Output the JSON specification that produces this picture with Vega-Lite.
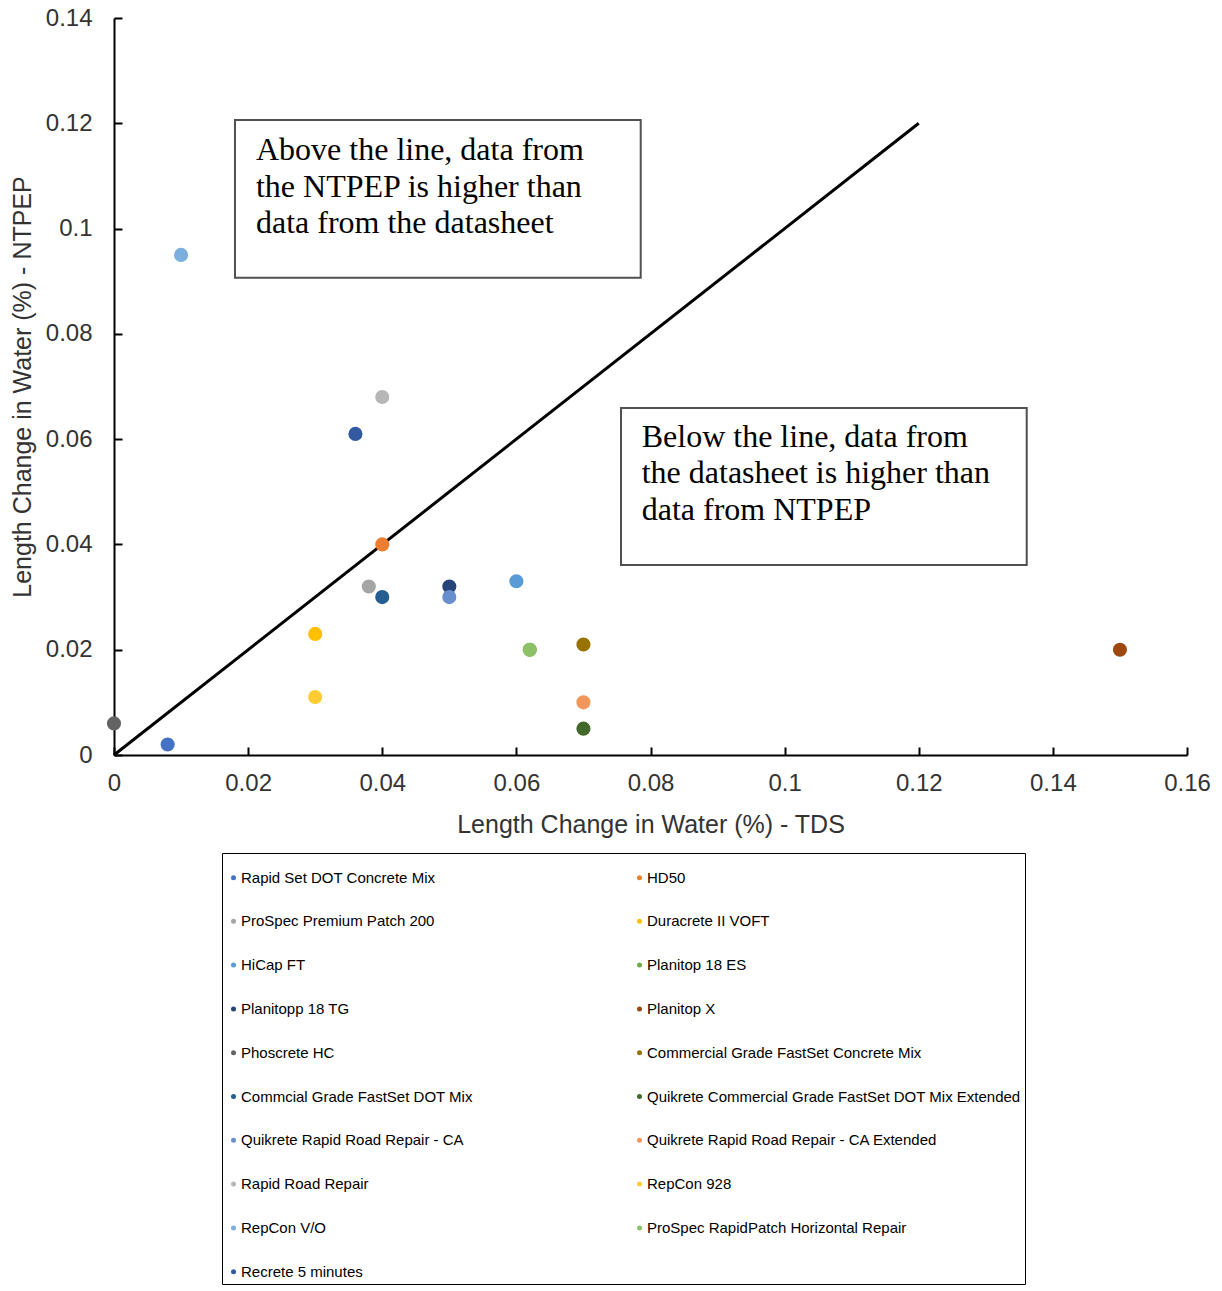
{
  "$schema": "https://vega.github.io/schema/vega-lite/v6.json",
  "width": 1073,
  "height": 737,
  "autosize": {"type": "none"},
  "padding": {"left": 114, "top": 18, "right": 35, "bottom": 536},
  "background": "white",
  "config": {
    "view": {"stroke": null},
    "axis": {
      "grid": false,
      "domainColor": "black",
      "domainWidth": 2,
      "tickColor": "black",
      "tickWidth": 2,
      "tickSize": -8,
      "labelFont": "Liberation Sans",
      "labelFontSize": 24,
      "labelColor": "#333333",
      "titleFont": "Liberation Sans",
      "titleFontSize": 25,
      "titleFontWeight": "normal",
      "titleColor": "#333333"
    }
  },
  "datasets": {
    "points": [
      {"product": "Rapid Set DOT Concrete Mix", "tds": 0.008, "ntpep": 0.002},
      {"product": "HD50", "tds": 0.04, "ntpep": 0.04},
      {"product": "ProSpec Premium Patch 200", "tds": 0.038, "ntpep": 0.032},
      {"product": "Duracrete II VOFT", "tds": 0.03, "ntpep": 0.023},
      {"product": "HiCap FT", "tds": 0.06, "ntpep": 0.033},
      {"product": "Planitop 18 ES", "tds": 0.062, "ntpep": 0.02},
      {"product": "Planitopp 18 TG", "tds": 0.05, "ntpep": 0.032},
      {"product": "Planitop X", "tds": 0.15, "ntpep": 0.02},
      {"product": "Phoscrete HC", "tds": 0.0, "ntpep": 0.006},
      {"product": "Commercial Grade FastSet Concrete Mix", "tds": 0.07, "ntpep": 0.021},
      {"product": "Commcial Grade FastSet DOT Mix", "tds": 0.04, "ntpep": 0.03},
      {"product": "Quikrete Commercial Grade FastSet DOT Mix Extended", "tds": 0.07, "ntpep": 0.005},
      {"product": "Quikrete Rapid Road Repair - CA", "tds": 0.05, "ntpep": 0.03},
      {"product": "Quikrete Rapid Road Repair - CA Extended", "tds": 0.07, "ntpep": 0.01},
      {"product": "Rapid Road Repair", "tds": 0.04, "ntpep": 0.068},
      {"product": "RepCon 928", "tds": 0.03, "ntpep": 0.011},
      {"product": "RepCon V/O", "tds": 0.01, "ntpep": 0.095},
      {"product": "ProSpec RapidPatch Horizontal Repair", "tds": 0.062, "ntpep": 0.02},
      {"product": "Recrete 5 minutes", "tds": 0.036, "ntpep": 0.061}
    ],
    "line": [
      {"tds": 0, "ntpep": 0},
      {"tds": 0.12, "ntpep": 0.12}
    ],
    "boxes": [
      {"x1": 0.01804, "x2": 0.07854, "y1": 0.12062, "y2": 0.09067},
      {"x1": 0.0756, "x2": 0.1361, "y1": 0.06592, "y2": 0.03609}
    ],
    "notes": [
      {"x": 0.02117, "y": 0.11303, "t": "Above the line, data from"},
      {"x": 0.02117, "y": 0.106, "t": "the NTPEP is higher than"},
      {"x": 0.02117, "y": 0.09916, "t": "data from the datasheet"},
      {"x": 0.07869, "y": 0.05857, "t": "Below the line, data from"},
      {"x": 0.07869, "y": 0.05161, "t": "the datasheet is higher than"},
      {"x": 0.07869, "y": 0.04464, "t": "data from NTPEP"}
    ]
  },
  "layer": [
    {
      "data": {"name": "boxes"},
      "mark": {"type": "rect", "fill": "white", "stroke": "#505050", "strokeWidth": 2},
      "encoding": {
        "x": {"field": "x1", "type": "quantitative", "scale": {"domain": [0, 0.16], "nice": false, "zero": false}},
        "x2": {"field": "x2"},
        "y": {"field": "y1", "type": "quantitative", "scale": {"domain": [0, 0.14], "nice": false, "zero": false}},
        "y2": {"field": "y2"}
      }
    },
    {
      "data": {"name": "notes"},
      "mark": {"type": "text", "font": "Liberation Serif", "fontSize": 32, "align": "left", "baseline": "alphabetic", "color": "black"},
      "encoding": {
        "x": {"field": "x", "type": "quantitative"},
        "y": {"field": "y", "type": "quantitative"},
        "text": {"field": "t"}
      }
    },
    {
      "data": {"name": "line"},
      "mark": {"type": "line", "color": "black", "strokeWidth": 3},
      "encoding": {
        "x": {"field": "tds", "type": "quantitative"},
        "y": {"field": "ntpep", "type": "quantitative"}
      }
    },
    {
      "data": {"name": "points"},
      "mark": {"type": "point", "filled": true, "opacity": 1, "size": 200, "shape": "circle"},
      "encoding": {
        "x": {
          "field": "tds", "type": "quantitative",
          "title": "Length Change in Water (%) - TDS",
          "axis": {"values": [0, 0.02, 0.04, 0.06, 0.08, 0.1, 0.12, 0.14, 0.16], "format": "~g", "labelPadding": 24, "titlePadding": 17, "labelFlush": false}
        },
        "y": {
          "field": "ntpep", "type": "quantitative",
          "title": "Length Change in Water (%) - NTPEP",
          "axis": {"values": [0, 0.02, 0.04, 0.06, 0.08, 0.1, 0.12, 0.14], "format": "~g", "labelPadding": 30, "titlePadding": 10, "labelFlush": false}
        },
        "color": {
          "field": "product", "type": "nominal", "sort": null,
          "scale": {
            "domain": ["Rapid Set DOT Concrete Mix", "ProSpec Premium Patch 200", "HiCap FT", "Planitopp 18 TG", "Phoscrete HC", "Commcial Grade FastSet DOT Mix", "Quikrete Rapid Road Repair - CA", "Rapid Road Repair", "RepCon V/O", "Recrete 5 minutes", "HD50", "Duracrete II VOFT", "Planitop 18 ES", "Planitop X", "Commercial Grade FastSet Concrete Mix", "Quikrete Commercial Grade FastSet DOT Mix Extended", "Quikrete Rapid Road Repair - CA Extended", "RepCon 928", "ProSpec RapidPatch Horizontal Repair"],
            "range": ["#4472C4", "#A5A5A5", "#5B9BD5", "#264478", "#636363", "#255E91", "#698ED0", "#B7B7B7", "#7CAFDD", "#335AA1", "#ED7D31", "#FFC000", "#70AD47", "#9E480E", "#997300", "#43682B", "#F1975A", "#FFCD33", "#8CC168"]
          },
          "legend": {
            "title": " ",
            "titleFontSize": 10,
            "titlePadding": 3,
            "orient": "none",
            "legendX": 108,
            "legendY": 835,
            "columns": 2,
            "columnPadding": 159,
            "rowPadding": 27.8,
            "padding": 4,
            "strokeColor": "black",
            "fillColor": "white",
            "symbolType": "circle",
            "symbolSize": 25,
            "symbolStrokeWidth": 0,
            "labelFont": "Liberation Sans",
            "labelFontSize": 15,
            "labelColor": "black",
            "labelOffset": 0,
            "labelLimit": 500
          }
        }
      }
    }
  ]
}
